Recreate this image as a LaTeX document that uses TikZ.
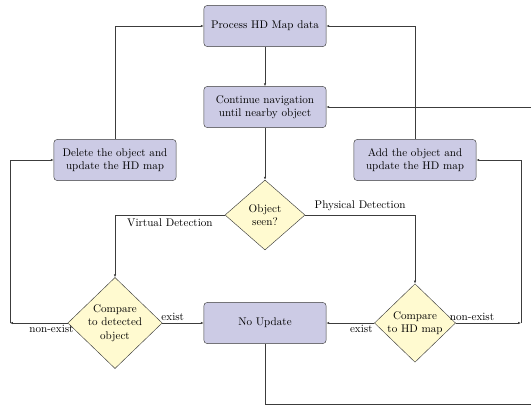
\documentclass[tikz,border=0pt]{standalone}
\usepackage{amsmath}
\usepackage{tikz}
\usetikzlibrary{positioning, calc, arrows.meta, shapes.geometric}
\definecolor{boxfill}{RGB}{204,203,229}
\definecolor{decfill}{RGB}{255,250,208}
\definecolor{linegray}{RGB}{60,60,60}
\tikzset{
  stepbox/.style={draw=linegray, fill=boxfill, rounded corners=3pt, align=center,
    minimum width=110pt, minimum height=37pt, inner sep=2pt},
  decision/.style={draw=linegray, fill=decfill, diamond, align=center, inner sep=0pt,
    font=\normalsize},
  flow/.style={draw=linegray, line width=0.5pt, -{Latex[length=2.6pt,width=2.2pt]}},
}

\begin{document}
\begin{tikzpicture}[x=0.9pt,y=-0.9pt]
      \clip (0,0) rectangle (531,407);

      \node[stepbox] (MAP1) at (265,26) {Process HD Map data};
      \node[stepbox] (MAP2) at (265,107) {Continue navigation\\until nearby object};

      \node[stepbox] (MAP3) at (115,160) {Delete the object and\\update the HD map};
      \node[stepbox] (MAP4) at (415,160) {Add the object and\\update the HD map};

      \node[decision, minimum width=72pt, minimum height=63pt] (OBJ1) at (265,215) {Object\\seen?};

      \node[decision, minimum width=85pt, minimum height=77pt] (OBJ2) at (115,323) {Compare\\to detected\\object};
      \node[stepbox] (MAP5) at (265,323) {No Update};
      \node[decision, minimum width=73pt, minimum height=65pt] (OBJ3) at (415,323) {Compare\\to HD map};

      \coordinate (L1) at (10,323);
      \coordinate (R1) at (521,323);
      \coordinate (B1) at (600,404);

      \draw[flow] (node cs:name=MAP1) -- (node cs:name=MAP2);
      \draw[flow] (node cs:name=MAP2) -- (node cs:name=OBJ1);

      \draw[flow] (node cs:name=OBJ1, anchor=west) -| node[auto=left, pos=0.25] {Virtual Detection} (node cs:name=OBJ2, anchor=north);
      \draw[flow] (node cs:name=OBJ1, anchor=east) -| node[auto=left, pos=0.25] {Physical Detection} (node cs:name=OBJ3, anchor=north);

      \draw[flow] (node cs:name=OBJ2, anchor=east) -- node[auto=left, pos=0.25, inner sep=1.5pt] {exist} (node cs:name=MAP5, anchor=west);
      \draw[flow] (node cs:name=OBJ2, anchor=west) -- node[auto=left, pos=0.28, inner sep=1.5pt] {non-exist} (L1);
      \draw[flow] (L1) |- (node cs:name=MAP3, anchor=west);
      \draw[flow] (node cs:name=MAP3, anchor=north) |- (node cs:name=MAP1, anchor=west);

      \draw[flow] (node cs:name=OBJ3, anchor=west) -- node[auto=left, pos=0.27, inner sep=1.5pt] {exist} (node cs:name=MAP5, anchor=east);
      \draw[flow] (node cs:name=OBJ3, anchor=east) -- node[auto=left, pos=0.25, inner sep=1.5pt] {non-exist} (R1);
      \draw[flow] (R1) |- (node cs:name=MAP4, anchor=east);
      \draw[flow] (node cs:name=MAP4, anchor=north) |- (node cs:name=MAP1, anchor=east);

      \draw[flow] (node cs:name=MAP5, anchor=south) |- (B1) |- (node cs:name=MAP2, anchor=east);
\end{tikzpicture}
\end{document}
